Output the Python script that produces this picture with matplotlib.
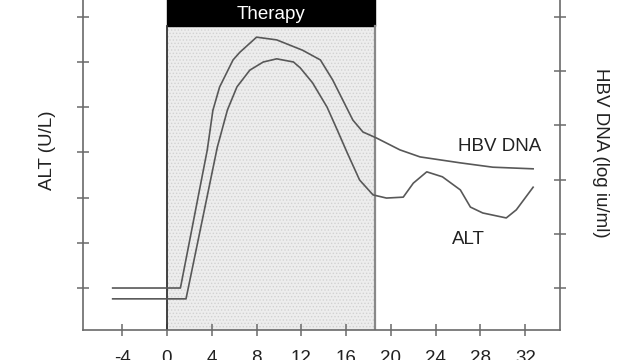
import matplotlib

matplotlib.use("Agg")

import matplotlib.pyplot as plt

plt.rcParams["font.family"] = ["Liberation Sans", "DejaVu Sans"]
plt.rcParams["hatch.linewidth"] = 0.6

# weeks relative to therapy start
therapy_start = 0
therapy_end = 18.6
x_ticks = [-4, 0, 4, 8, 12, 16, 20, 24, 28, 32]

# HBV DNA (right axis, log iu/ml, arbitrary units)
hbv_weeks = [-4.85, 1.2, 3.6, 4.1, 4.7, 5.9, 6.5, 8.0, 9.8, 12.1, 13.7, 14.8,
             15.7, 16.6, 17.5, 18.7, 20.8, 22.6, 26.2, 29.1, 32.7]
hbv_values = [1.00, 1.00, 3.55, 4.28, 4.71, 5.21, 5.35, 5.63, 5.58, 5.39, 5.21, 4.84,
              4.47, 4.10, 3.88, 3.77, 3.55, 3.42, 3.31, 3.23, 3.20]

# ALT (left axis, U/L, arbitrary units)
alt_weeks = [-4.85, 1.7, 4.5, 5.4, 6.25, 7.4, 8.6, 9.8, 11.3, 11.9, 13.0, 14.3,
             15.2, 16.1, 17.2, 18.4, 19.6, 21.1, 22.0, 23.2, 24.6, 26.2, 27.1,
             28.2, 30.3, 31.2, 32.7]
alt_values = [0.76, 0.76, 4.12, 4.94, 5.45, 5.82, 6.00, 6.07, 6.00, 5.87, 5.54, 5.00,
              4.50, 3.99, 3.39, 3.06, 2.99, 3.01, 3.32, 3.57, 3.46, 3.17, 2.79,
              2.66, 2.55, 2.73, 3.23]

left_ticks = [1, 2, 3, 4, 5, 6, 7]
right_ticks = [1, 2, 3, 4, 5, 6]

LINE = "#585858"
AXIS = "#6a6a6a"
TEXT = "#222222"

fig = plt.figure(figsize=(6.4, 3.6), dpi=100, facecolor="white")
ax = fig.add_axes([83 / 640, 30 / 360, 477 / 640, 334 / 360])
ax.set_facecolor("white")
ax2 = ax.twinx()

ax.set_xlim(-7.5, 35.1)
ax.set_ylim(0.071, 7.46)
ax2.set_ylim(0.225, 6.39)

box_bottom = (330 - 26) / 334
ax.axvspan(therapy_start, therapy_end, ymin=0, ymax=box_bottom,
           facecolor="#ededed", edgecolor="#d2d2d2", hatch=".....", linewidth=0, zorder=0)
ax.axvspan(therapy_start, therapy_end, ymin=box_bottom, ymax=1,
           facecolor="black", edgecolor="black", zorder=1)
ax.axvline(therapy_start, ymax=box_bottom, color="#333333", linewidth=1.3, zorder=2)
ax.axvline(therapy_end, ymax=box_bottom, color="#888888", linewidth=1.6, zorder=2)
ax.text((therapy_start + therapy_end) / 2, (330 - 19) / 334, "Therapy",
        transform=ax.get_xaxis_transform(), ha="center", va="baseline",
        color="white", fontsize=13.5, zorder=3)

ax.plot(alt_weeks, alt_values, color=LINE, linewidth=1.2, zorder=4)
ax2.plot(hbv_weeks, hbv_values, color=LINE, linewidth=1.2, zorder=4)

ax.text(29.7, 4.12, "HBV DNA", ha="center", va="center", color=TEXT, fontsize=13.5)
ax.text(26.9, 2.08, "ALT", ha="center", va="center", color=TEXT, fontsize=13.5)

ax.set_xticks(x_ticks)
ax.set_xticklabels([str(t) for t in x_ticks])
ax.set_yticks(left_ticks)
ax.set_yticklabels([])
ax2.set_yticks(right_ticks)
ax2.set_yticklabels([])

for a in (ax, ax2):
    a.spines["top"].set_visible(False)
    for spine in a.spines.values():
        spine.set_color(AXIS)
        spine.set_linewidth(1.2)
ax.spines["right"].set_visible(False)
ax2.spines["left"].set_visible(False)
ax2.spines["bottom"].set_visible(False)

ax.tick_params(axis="x", direction="inout", length=9, width=1.1, color=AXIS,
               pad=10, labelsize=13.5, labelcolor=TEXT)
ax.tick_params(axis="y", direction="inout", length=9, width=1.1, color=AXIS)
ax2.tick_params(axis="y", direction="inout", length=9, width=1.1, color=AXIS)

fig.text(47 / 640, 1 - 150 / 360, "ALT (U/L)", rotation=90, ha="center", va="center",
         color=TEXT, fontsize=13.5)
fig.text(601 / 640, 1 - 153 / 360, "HBV DNA (log iu/ml)", rotation=270, ha="center",
         va="center", color=TEXT, fontsize=13.5)

fig.savefig("out.png", dpi=100, facecolor="white")
